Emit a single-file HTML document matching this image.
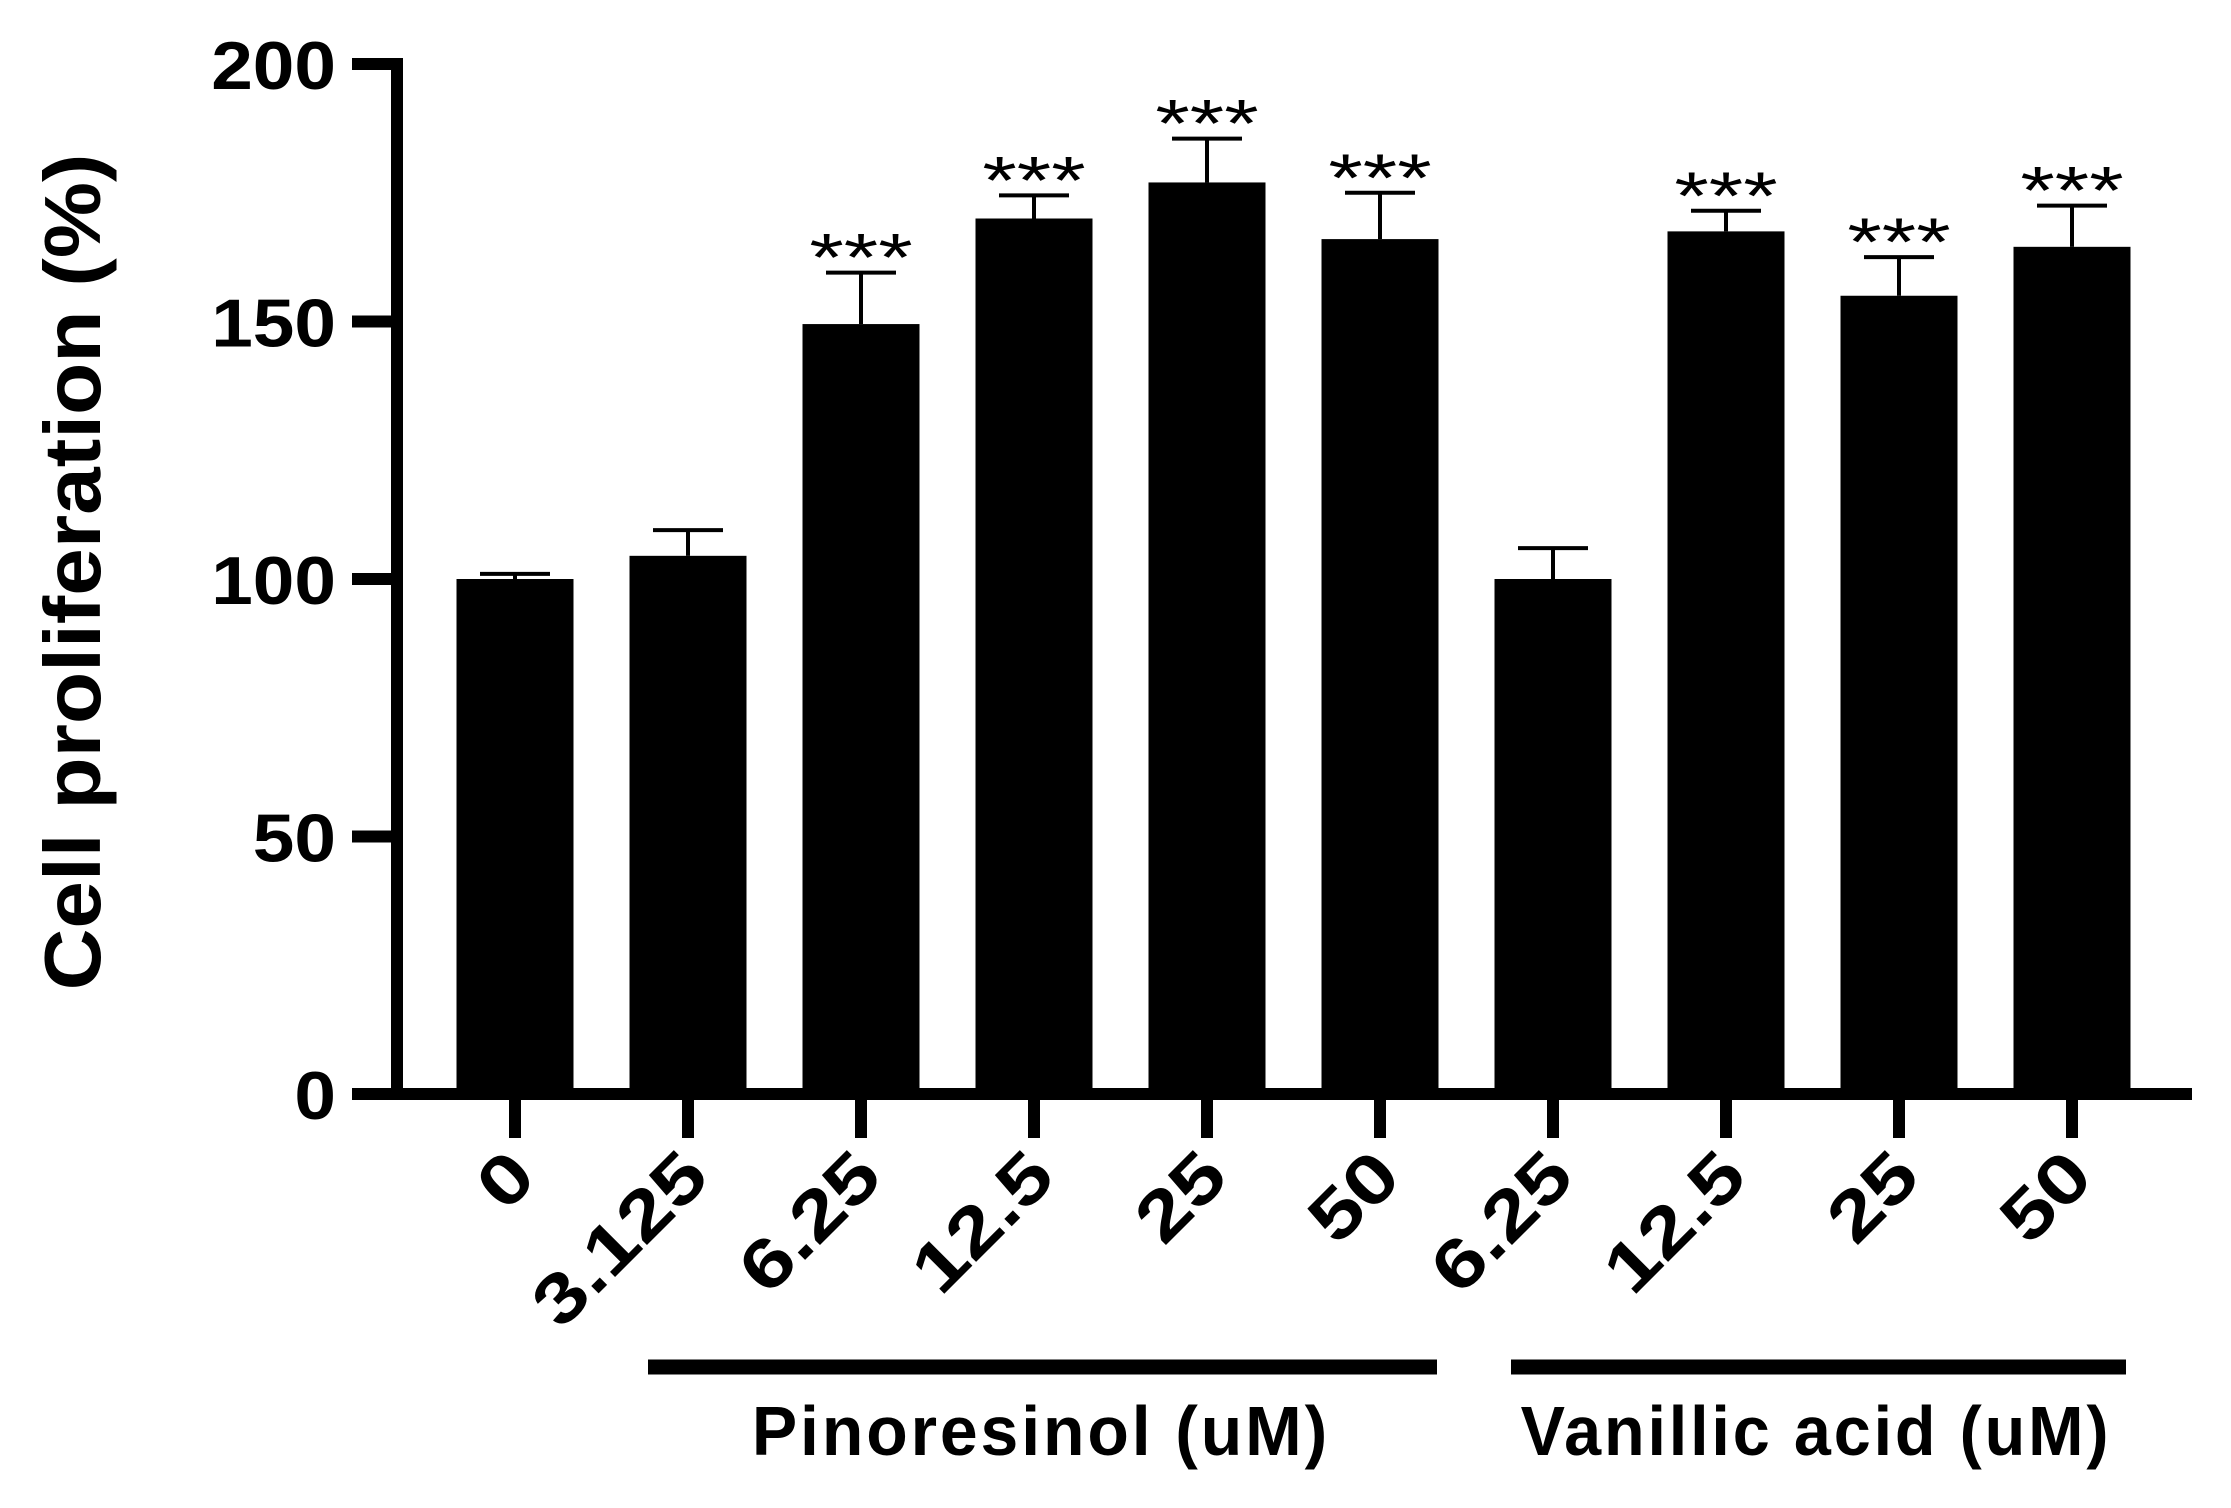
<!DOCTYPE html>
<html><head><meta charset="utf-8"><style>
html,body{margin:0;padding:0;background:#fff;}
svg text{font-family:"Liberation Sans",Arial,sans-serif;}
</style></head><body>
<svg id="chart" width="2231" height="1503" viewBox="0 0 2231 1503" xmlns="http://www.w3.org/2000/svg">
<text transform="translate(100,572) rotate(-90) scale(1.07,1)" text-anchor="middle" font-size="80" font-weight="bold">Cell proliferation (%)</text>
<g id="axes"></g>
<g id="bars"></g>
<line x1="648" x2="1437" y1="1367" y2="1367" stroke="#000" stroke-width="15"/>
<line x1="1511" x2="2126" y1="1367" y2="1367" stroke="#000" stroke-width="15"/>
<text transform="translate(1041,1455) scale(0.97,1)" text-anchor="middle" font-size="70" font-weight="bold" letter-spacing="3">Pinoresinol (uM)</text>
<text transform="translate(1816,1455) scale(0.95,1)" text-anchor="middle" font-size="70" font-weight="bold" letter-spacing="3">Vanillic acid (uM)</text>
</svg>
<script>
const categories = ["0","3.125","6.25","12.5","25","50","6.25","12.5","25","50"];
const values = [100,104.5,149.5,170,177,166,100,167.5,155,164.5];
const errors = [1,5,10,4.5,8.5,9,6,4,7.5,8];
const stars = ["","","***","***","***","***","","***","***","***"];
const yTicks = [0,50,100,150,200];

const NS = "http://www.w3.org/2000/svg";
const axes = document.getElementById('axes');
const barsG = document.getElementById('bars');
const y0 = 1094, y1 = 64, yMax = 200;
const yScale = v => y0 - (v / yMax) * (y0 - y1);
const xStart = 515, step = 173;
const xScale = i => xStart + i * step;
const barW = 117;
function mk(tag, attrs, parent){const e=document.createElementNS(NS,tag);for(const k in attrs)e.setAttribute(k,attrs[k]);parent.appendChild(e);return e;}

let l = mk('line',{x1:397,x2:397,y1:y1-6,y2:y0+6,stroke:'#000','stroke-width':12},axes);


l = mk('line',{x1:391,x2:2192,y1:y0,y2:y0,stroke:'#000','stroke-width':12},axes);


yTicks.forEach(t=>{
  const y=yScale(t);
  const tk=mk('line',{x1:352,x2:397,y1:y,y2:y,stroke:'#000','stroke-width':12},axes);
  
  
  const tx=mk('text',{transform:`translate(336,${y+25}) scale(1.1,1)`,'text-anchor':'end','font-size':68,'font-weight':'bold'},axes);
  tx.textContent=t;
  
  
});
categories.forEach((c,i)=>{
  const cx=xScale(i);
  const top=yScale(values[i]);
  const r=mk('rect',{x:cx-barW/2,y:top,width:barW,height:y0-top,fill:'#000'},barsG);
  
  
  const et=yScale(values[i]+errors[i]);
  const el=mk('line',{x1:cx,x2:cx,y1:top,y2:et,stroke:'#000','stroke-width':4},barsG);
  
  
  const ec=mk('line',{x1:cx-35,x2:cx+35,y1:et,y2:et,stroke:'#000','stroke-width':4},barsG);
  
  
  if(stars[i]){
    const s=mk('text',{transform:`translate(${cx},${et+8}) scale(1.3,1)`,'text-anchor':'middle','font-size':68},barsG);
    s.textContent=stars[i];
    
    
  }
  const tk=mk('line',{x1:cx,x2:cx,y1:y0,y2:1138,stroke:'#000','stroke-width':12},barsG);
  
  
  const lb=mk('text',{transform:`translate(${cx+24},${1180}) rotate(-45) scale(1.22,1)`,'text-anchor':'end','font-size':70,'font-weight':'bold'},barsG);
  lb.textContent=c;
  
  
});
</script>
</body></html>
